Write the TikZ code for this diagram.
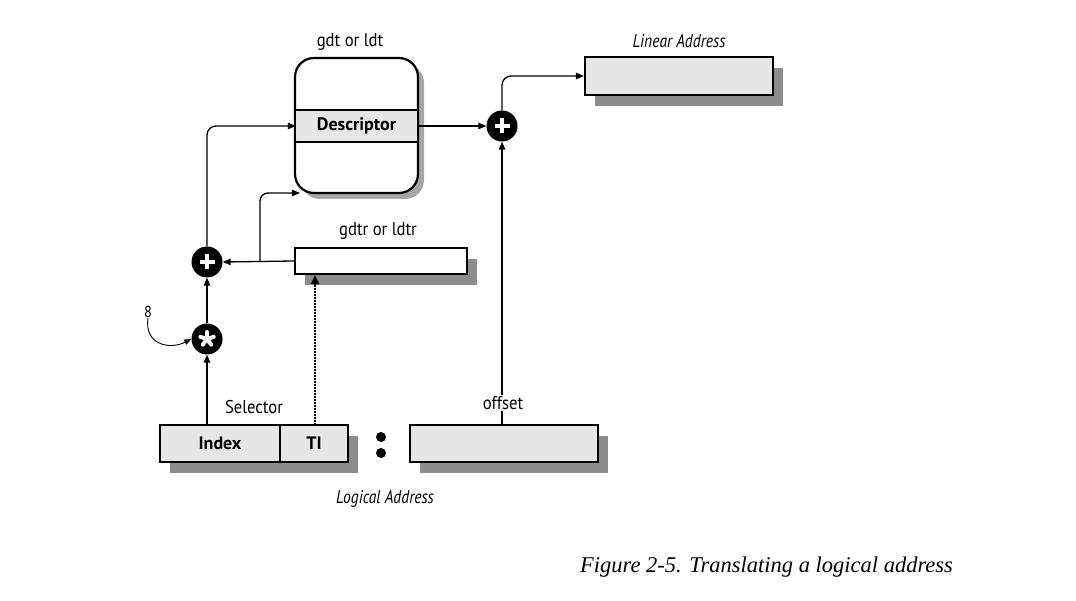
\documentclass[tikz,border=0pt]{standalone}
\usepackage{fontspec}
\setmainfont{Liberation Serif}
\newfontfamily\lab[FakeStretch=0.9]{PT Sans}
\newfontfamily\labi[FakeStretch=0.84]{PT Sans}
\newfontfamily\labb{PT Sans}
\usetikzlibrary{arrows.meta,shadows,calc}
\definecolor{boxgray}{HTML}{E6E6E7}
\tikzset{
  arr/.style={line width=1.3pt,-{Triangle[length=8pt,width=6.5pt]}},
  box/.style={draw=black,line width=2.2pt,fill=boxgray,inner sep=0pt,
    drop shadow={shadow xshift=10pt,shadow yshift=-11pt,fill=black!45,opacity=1}},
  lbl/.style={font=\lab\fontsize{18.5}{20}\selectfont,inner sep=1pt},
  ilbl/.style={font=\labi\itshape\fontsize{18.5}{20}\selectfont,inner sep=1pt},
  blbl/.style={font=\labb\bfseries\fontsize{18}{20}\selectfont,inner sep=0pt},
  opnode/.style={circle,fill=black,minimum size=31pt,inner sep=0pt},
  plusnode/.style={opnode,path picture={
    \draw[white,line width=4pt] ($(path picture bounding box.center)+(-7.5pt,0)$) -- ($(path picture bounding box.center)+(7.5pt,0)$);
    \draw[white,line width=4pt] ($(path picture bounding box.center)+(0,-7.5pt)$) -- ($(path picture bounding box.center)+(0,7.5pt)$);}},
  starnode/.style={opnode,path picture={
    \foreach \a in {90,162,234,306,18}
      \draw[white,line width=4pt,line cap=round] (path picture bounding box.center) -- ++(\a:7pt);}},
}
\begin{document}
\begin{tikzpicture}[x=1pt,y=-1pt]
\useasboundingbox[fill=white] (0,0) rectangle (1076,601);

% gdt box
\node[draw=black,line width=2.2pt,fill=white,rounded corners=19pt,minimum width=123pt,minimum height=135pt,inner sep=0pt,
  drop shadow={shadow xshift=6pt,shadow yshift=-6pt,fill=black!35,opacity=1}] (gdt) at (356.5,125.5) {};
\node[fill=boxgray,minimum width=121pt,minimum height=32pt,inner sep=0pt,blbl] (desc) at (356.5,126) {Descriptor};
\draw[line width=2.2pt] (desc.north west) -- (desc.north east) (desc.south west) -- (desc.south east);
\node[lbl] (gdtlab) at (350,42) {gdt or ldt};

% linear address
\node[box,minimum width=188pt,minimum height=38pt] (lin) at (679,76) {};
\node[ilbl] (linlab) at (679,41) {Linear Address};

% gdtr box
\node[box,fill=white,minimum width=172pt,minimum height=26pt] (gdtr) at (381,261) {};
\node[lbl] (gdtrlab) at (378,231) {gdtr or ldtr};

% selector
\node[box,minimum width=188pt,minimum height=37pt] (sel) at (254,443.5) {};
\node[fill=none,minimum width=1pt,minimum height=37pt,inner sep=0pt] (div) at (280,443.5) {};
\draw[line width=2.2pt] (div.north) -- (div.south);
\node[blbl] (idx) at (220,443) {Index};
\node[blbl] (ti) at (314,443) {TI};
\coordinate (tit) at (315,425);
\node[lbl] (sellab) at (254,407) {Selector};

% colon
\fill (381,437) circle (5pt) (381,453) circle (5pt);

% offset
\node[box,minimum width=188pt,minimum height=37pt] (off) at (504,443.5) {};
\node[ilbl] (loglab) at (385,499) {Logical Address};

% operators
\node[plusnode] (pr) at (502,126) {};
\node[plusnode] (pl) at (207,262) {};
\node[starnode] (st) at (207,339) {};

% connectors
\draw[arr] (desc.east) -- (pr.west);
\draw[arr,rounded corners=9pt] (pr.north) |- (lin.west);
\draw[arr] (off.north -| pr.south) -- (pr.south);
\node[lbl,fill=white] (offlab) at (503,403) {offset};

\draw[arr] (sel.north -| st.south) -- (st.south);
\draw[arr] (st.north) -- (pl.south);
\draw[arr,rounded corners=9pt] (pl.north) |- (desc.west);
\draw[arr] (gdtr.west) -- (pl.east);
\coordinate (br) at (260,261);
\coordinate (gin) at (300,193);
\draw[arr,rounded corners=8pt] (br) |- (gin);
\draw[line width=2.4pt,dash pattern=on 1.6pt off 1.4pt,-{Triangle[length=9pt,width=8pt]}] (tit) -- (tit |- gdtr.south);

% 8
\node[font=\lab\fontsize{16}{18}\selectfont,inner sep=0pt] (eight) at (148,312) {8};
\draw[line width=0.9pt,-{Triangle[length=7pt,width=5.5pt]}] (eight.south) .. controls (144,345) and (170,350) .. (st.west);

% caption
\node[font=\itshape\fontsize{22.5}{26}\selectfont,anchor=west,inner sep=0pt] (cap) at (580,567) {Figure 2-5. Translating a logical address};
\end{tikzpicture}
\end{document}
